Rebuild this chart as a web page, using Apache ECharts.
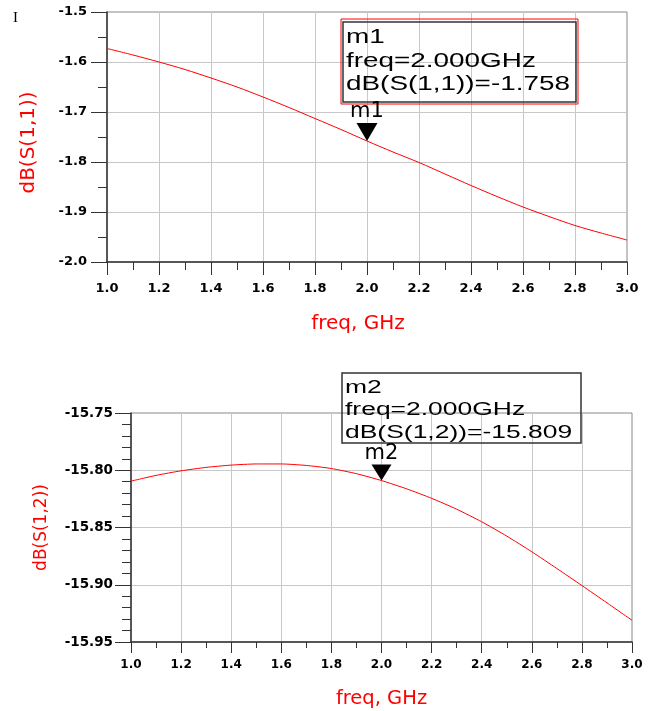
<!DOCTYPE html>
<html>
<head>
<meta charset="utf-8">
<style>
html, body { margin: 0; padding: 0; background: #fff; }
#chart { width: 654px; height: 711px; }
</style>
<script src="https://cdn.jsdelivr.net/npm/echarts@6.0.0/dist/echarts.min.js"></script>
</head>
<body>
<div id="chart"></div>
<script>
// sweep points, GHz
const freqGHz = [1.0, 1.1, 1.2, 1.3, 1.4, 1.5, 1.6, 1.7, 1.8, 1.9, 2.0,
  2.1, 2.2, 2.3, 2.4, 2.5, 2.6, 2.7, 2.8, 2.9, 3.0];
// dB(S(1,1))
const s11dB = [-1.573, -1.586, -1.600, -1.615, -1.632, -1.650, -1.670, -1.691, -1.713, -1.735, -1.758,
  -1.780, -1.801, -1.824, -1.847, -1.869, -1.890, -1.909, -1.927, -1.942, -1.956];
// dB(S(1,2))
const s12dB = [-15.8095, -15.8045, -15.8005, -15.7975, -15.7955, -15.7945, -15.7945, -15.7958, -15.7985, -15.8030, -15.8090,
  -15.8162, -15.8245, -15.8340, -15.8450, -15.8575, -15.8712, -15.8858, -15.9007, -15.9158, -15.9310];
// markers
const markFreq = 2.0;
const markS11 = -1.758;
const markS12 = -15.809;

const FONT = '"DejaVu Sans", sans-serif';
const AXIS = '#333';

function xAxisOpt(gridIndex, o) {
  return {
    gridIndex: gridIndex,
    type: 'value',
    min: 1,
    max: 3,
    interval: 0.2,
    name: 'freq, GHz',
    nameLocation: 'middle',
    nameGap: o.nameGap,
    nameTextStyle: { color: '#ff0000', fontSize: o.nameSize, fontFamily: FONT, padding: o.namePad },
    axisLine: { onZero: false, lineStyle: { color: AXIS, width: 1.5 } },
    axisTick: { length: o.tick, lineStyle: { color: AXIS } },
    minorTick: { show: true, splitNumber: 2, length: o.minor, lineStyle: { color: AXIS } },
    axisLabel: {
      color: '#000', fontSize: o.labelSize, fontWeight: 'bold', fontFamily: FONT, margin: o.margin,
      formatter: (v) => v.toFixed(1)
    },
    splitLine: { show: true, showMinLine: false, showMaxLine: false, lineStyle: { color: '#c8c8c8' } }
  };
}

function yAxisOpt(gridIndex, o) {
  return {
    gridIndex: gridIndex,
    type: 'value',
    min: o.min,
    max: o.max,
    interval: o.interval,
    name: o.name,
    nameLocation: 'middle',
    nameGap: o.nameGap,
    nameTextStyle: { color: '#ff0000', fontSize: o.nameSize, fontFamily: FONT, padding: o.namePad },
    axisLine: { onZero: false, lineStyle: { color: AXIS, width: 1.5 } },
    axisTick: { length: 16, lineStyle: { color: AXIS } },
    minorTick: { show: true, splitNumber: o.minorSplit, length: 9, lineStyle: { color: AXIS } },
    axisLabel: {
      color: '#000', fontSize: o.labelSize, fontWeight: 'bold', fontFamily: FONT, margin: o.margin,
      formatter: (v) => v.toFixed(o.digits)
    },
    splitLine: { show: true, showMinLine: false, showMaxLine: false, lineStyle: { color: '#c8c8c8' } }
  };
}

function markOpt(name, value, size) {
  return {
    silent: true,
    symbol: 'path://M0 0L20 0L10 17Z',
    symbolSize: size,
    symbolOffset: [0, -size[1] / 2],
    itemStyle: { color: '#000' },
    label: { show: true, position: 'top', distance: 1, formatter: name, color: '#000', fontSize: 21, fontFamily: FONT },
    data: [{ coord: [markFreq, value] }]
  };
}

var myChart = echarts.init(document.getElementById('chart'));

let option = {
  animation: false,
  backgroundColor: '#fff',
  grid: [
    { left: 107, top: 12, width: 520, height: 250, show: true, borderColor: '#888', borderWidth: 1 },
    { left: 131, top: 413, width: 501, height: 229, show: true, borderColor: '#888', borderWidth: 1 }
  ],
  xAxis: [
    xAxisOpt(0, { nameGap: 52, nameSize: 20, namePad: [0, 18, 0, 0], tick: 13, minor: 8, labelSize: 13, margin: 20 }),
    xAxisOpt(1, { nameGap: 47, nameSize: 19.5, namePad: 0, tick: 11, minor: 6, labelSize: 12, margin: 17 })
  ],
  yAxis: [
    yAxisOpt(0, { min: -2.0, max: -1.5, interval: 0.1, minorSplit: 2, digits: 1, name: 'dB(S(1,1))',
      nameGap: 68, nameSize: 20, namePad: [0, 11, 0, 0], labelSize: 13, margin: 20 }),
    yAxisOpt(1, { min: -15.95, max: -15.75, interval: 0.05, minorSplit: 5, digits: 2, name: 'dB(S(1,2))',
      nameGap: 81, nameSize: 17, namePad: 0, labelSize: 13.5, margin: 18 })
  ],
  series: [
    {
      name: 'S11',
      type: 'line',
      xAxisIndex: 0,
      yAxisIndex: 0,
      data: freqGHz.map((f, i) => [f, s11dB[i]]),
      smooth: 0.3,
      showSymbol: false,
      lineStyle: { color: '#ff0000', width: 1 },
      markPoint: markOpt('m1', markS11, [21, 18])
    },
    {
      name: 'S12',
      type: 'line',
      xAxisIndex: 1,
      yAxisIndex: 1,
      data: freqGHz.map((f, i) => [f, s12dB[i]]),
      smooth: 0.2,
      showSymbol: false,
      lineStyle: { color: '#ff0000', width: 1 },
      markPoint: markOpt('m2', markS12, [20, 16])
    }
  ]
};
myChart.setOption(option);

// marker readout boxes, placed relative to the marker point
const p1 = myChart.convertToPixel({ seriesIndex: 0 }, [markFreq, markS11]);
const p2 = myChart.convertToPixel({ seriesIndex: 1 }, [markFreq, markS12]);
const BOX_FONT = '"Liberation Sans", Arial, sans-serif';

myChart.setOption({
  graphic: [
    {
      type: 'text', left: 13, top: 11,
      style: { text: 'I', font: '15px "Liberation Serif", serif', fill: '#000' }
    },
    {
      type: 'group', x: p1[0], y: p1[1], silent: true,
      children: [
        { type: 'rect', shape: { x: -26, y: -122, width: 237, height: 85 }, style: { fill: 'none', stroke: '#ff0000', lineWidth: 1 } },
        { type: 'rect', shape: { x: -24, y: -119, width: 233, height: 80 }, style: { fill: 'none', stroke: '#333', lineWidth: 1.5 } },
        {
          type: 'text', x: -21, y: -115, scaleX: 1.43,
          style: {
            text: 'm1\nfreq=' + markFreq.toFixed(3) + 'GHz\ndB(S(1,1))=' + markS11.toFixed(3),
            font: '19.5px ' + BOX_FONT, fill: '#000', lineHeight: 23.5, align: 'left', verticalAlign: 'top'
          }
        }
      ]
    },
    {
      type: 'group', x: p2[0], y: p2[1], silent: true,
      children: [
        { type: 'rect', shape: { x: -39.5, y: -107.5, width: 239, height: 70 }, style: { fill: 'none', stroke: '#333', lineWidth: 1.5 } },
        {
          type: 'text', x: -36.5, y: -104, scaleX: 1.47,
          style: {
            text: 'm2\nfreq=' + markFreq.toFixed(3) + 'GHz\ndB(S(1,2))=' + markS12.toFixed(3),
            font: '18px ' + BOX_FONT, fill: '#000', lineHeight: 22.5, align: 'left', verticalAlign: 'top'
          }
        }
      ]
    }
  ]
});
</script>
</body>
</html>
